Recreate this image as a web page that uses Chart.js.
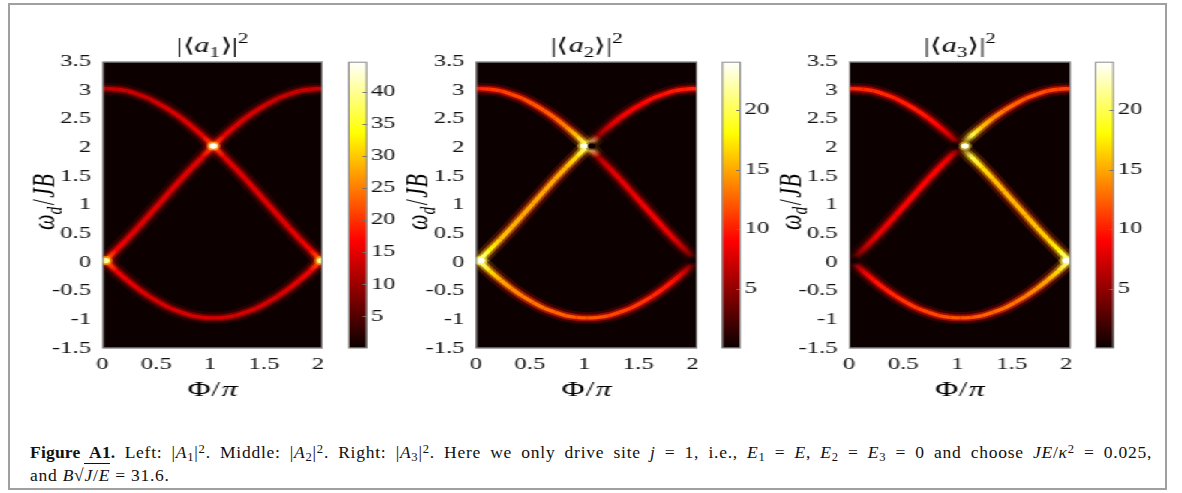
<!DOCTYPE html>
<html><head><meta charset="utf-8">
<script src="https://cdn.jsdelivr.net/npm/chart.js"></script>
<style>
html,body{margin:0;padding:0;background:#fff;width:1182px;height:493px;overflow:hidden;}
#frame{position:absolute;left:8px;top:3px;width:1159px;height:487px;box-sizing:border-box;border:2px solid #a0a0a0;}
#fig{position:absolute;left:0;top:0;width:800px;height:400px;transform:scaleX(1.5);transform-origin:0 0;}
#fig canvas{position:absolute;top:0;}
#cap{position:absolute;left:30px;top:442px;width:1122px;font-family:"Liberation Serif","Times New Roman",serif;font-size:17.5px;line-height:21px;color:#111;letter-spacing:0.75px;}
#cap b{letter-spacing:0.2px;}
#cap .l1{text-align:justify;text-align-last:justify;white-space:nowrap;}
#cap sub{vertical-align:baseline;position:relative;top:0.25em;font-size:0.72em;}
#cap sup{vertical-align:baseline;position:relative;top:-0.42em;font-size:0.72em;}
.ov{border-top:1px solid #111;padding-top:1px;}
</style>
</head><body>
<div id="frame"></div>
<div id="fig"></div>
<div id="cap">
<div class="l1"><b>Figure&nbsp;A1.</b> Left: |<i>A</i><sub>1</sub>|<sup>2</sup>. Middle: |<i>A</i><sub>2</sub>|<sup>2</sup>. Right: |<i>A</i><sub>3</sub>|<sup>2</sup>. Here we only drive site <i>j</i> = 1, i.e., <i>E</i><sub>1</sub> = <i>E</i>, <i>E</i><sub>2</sub> = <i>E</i><sub>3</sub> = 0 and choose <i>JE</i>/<i>κ</i><sup>2</sup> = 0.025,</div>
<div>and <i>B</i>√<span class="ov"><i>J</i>/<i>E</i></span> = 31.6.</div>
</div>
<script>
// ---------------- data ----------------
const phi    = [0,0.03,0.13,0.23,0.33,0.43,0.53,0.63,0.73,0.83,0.93,1.03,1.13,1.23,1.33,1.43,1.53,1.63,1.73,1.83,1.93,2.03];
const omegaA = [3.03,3.03,3.02,2.99,2.93,2.86,2.76,2.65,2.52,2.37,2.21,2.03,1.84,1.65,1.45,1.24,1.03,0.82,0.61,0.41,0.22,0.03];
const omegaB = [-0.02,0.03,0.22,0.41,0.61,0.82,1.03,1.24,1.45,1.65,1.84,2.03,2.21,2.37,2.52,2.65,2.76,2.86,2.93,2.99,3.02,3.03];
const omegaC = [0.08,0.03,-0.15,-0.31,-0.46,-0.59,-0.70,-0.80,-0.87,-0.93,-0.96,-0.97,-0.96,-0.93,-0.87,-0.80,-0.70,-0.59,-0.46,-0.31,-0.15,0.03];

// intensity along each branch, |<a1>|^2
const intA_left  = [13,13,13,13,13,13,13.5,14,14,14.5,15,22,15,14.5,14.5,14.5,14.5,14.5,14.5,15,16,24];
const intB_left  = [24,24,16,15,14.5,14.5,14.5,14.5,14.5,14.5,15,22,15,14.5,14,14,13.5,13,13,13,13,13];
const intC_left  = [24,24,16,15,14.5,14,14,14,14,14,14,14,14,14,14,14,14,14,14.5,15,16,24];
// |<a2>|^2
const intA_mid   = [10.5,10.5,11,11,11.5,11.5,12,12,12.5,13.5,16,22,6,7.5,8,8,8.5,8.5,8.5,8,6,1];
const intB_mid   = [23,23,18,16,15.5,15,15,15,15,15.5,17,22,5,7.5,8.5,9,9,9.5,9.5,10,10,10.5];
const intC_mid   = [23,23,17,15,14,13.5,13,13,12.5,12.5,12,12,12,11.5,11.5,11,11,10.5,10,9.5,7,1];
// |<a3>|^2
const intA_right = [10.5,10.5,10.5,10.5,10.5,10,10,10,9.5,9,7,2,20,17,16,15.5,15.5,15.5,16,16.5,18,23];
const intB_right = [1,1,6,8,8.5,8.5,9,9,9,9,8,2,20,16,14,13,12.5,12,12,11.5,11.5,11.5];
const intC_right = [2,2,8,9.5,10,10.5,11,11,11.5,11.5,12,12,12,12.5,12.5,13,13,13.5,14,15,17,23];

// bright / dark spots
const spotX_left  = [1.03,0.03,2.03], spotY_left  = [2.03,0.03,0.03], spotV_left  = [44.5,40,40];
const spotX_mid   = [1.00,1.07,0.05,2.00], spotY_mid   = [2.03,2.03,0.03,0.03], spotV_mid   = [23.5,0.3,24,0.3];
const spotX_right = [0.98,1.07,0.05,2.00], spotY_right = [2.03,2.03,0.03,0.03], spotV_right = [0.3,23.5,0.3,24];

// axes
const xTicks = [0,0.5,1,1.5,2];
const xTickLabels = ['0','0.5','1','1.5','2'];
const yTicks = [-1.5,-1,-0.5,0,0.5,1,1.5,2,2.5,3,3.5];
const yTickLabels = ['-1.5','-1','-0.5','0','0.5','1','1.5','2','2.5','3','3.5'];
const xRange = [0,2.045];
const yRange = [-1.5,3.5];
const cbRange_left = [0,44.7], cbTicks_left = [5,10,15,20,25,30,35,40];
const cbRange_mid  = [0,24.05], cbTicks_mid  = [5,10,15,20];
const cbRange_right= [0,24.05], cbTicks_right= [5,10,15,20];
const titleSubs = ['1','2','3'];

// ---------------- drawing ----------------
const FONT = '"Liberation Serif","Times New Roman",serif';
const clamp = v => v < 0 ? 0 : v > 1 ? 1 : v;
function hotRGB(v){ v = clamp(v); return [Math.round(255*clamp(0.04+0.96*v/0.375)), Math.round(255*clamp((v-0.375)/0.375)), Math.round(255*clamp((v-0.75)/0.25))]; }
function hotStr(v,a){ const c = hotRGB(v); return (a===undefined || a>=1) ? `rgb(${c})` : `rgba(${c},${a})`; }

function segColor(intensity, vmax, k, alpha){
  return sc => {
    const g = sc.chart.ctx.createLinearGradient(sc.p0.x, sc.p0.y, sc.p1.x, sc.p1.y);
    g.addColorStop(0, hotStr(intensity[sc.p0DataIndex]/vmax*k, alpha));
    g.addColorStop(1, hotStr(intensity[sc.p1DataIndex]/vmax*k, alpha));
    return g;
  };
}

function drawRuns(c, runs, size, x, y){
  let total = 0; const ms = [];
  for (const r of runs){
    const fs = (r.sub || r.sup) ? size*0.7 : size;
    c.font = (r.i ? 'italic ' : '') + fs + 'px ' + FONT;
    const w = c.measureText(r.t).width; ms.push({fs, w}); total += w + (r.gap||0);
  }
  let cx = x - total/2;
  c.textBaseline = 'alphabetic'; c.textAlign = 'left'; c.fillStyle = '#000';
  runs.forEach((r,k) => {
    c.font = (r.i ? 'italic ' : '') + ms[k].fs + 'px ' + FONT;
    const dy = r.sub ? size*0.22 : r.sup ? -size*0.45 : 0;
    c.fillText(r.t, cx, y + dy); cx += ms[k].w + (r.gap||0);
  });
}

const panels = [
  {sub:titleSubs[0], curves:[[omegaA,intA_left],[omegaB,intB_left],[omegaC,intC_left]], sx:spotX_left, sy:spotY_left, sv:spotV_left, cbRange:cbRange_left, cbTicks:cbTicks_left,
   geo:{plotL:68.2, plotR:218.9, cbL:232, cbR:244.7}},
  {sub:titleSubs[1], curves:[[omegaA,intA_mid],[omegaB,intB_mid],[omegaC,intC_mid]], sx:spotX_mid, sy:spotY_mid, sv:spotV_mid, cbRange:cbRange_mid, cbTicks:cbTicks_mid,
   geo:{plotL:317.3, plotR:468.5, cbL:481.3, cbR:494}},
  {sub:titleSubs[2], curves:[[omegaA,intA_right],[omegaB,intB_right],[omegaC,intC_right]], sx:spotX_right, sy:spotY_right, sv:spotV_right, cbRange:cbRange_right, cbTicks:cbTicks_right,
   geo:{plotL:566, plotR:717.5, cbL:730, cbR:742.7}}
];

const H = 400, TOP = 61.7, BOTTOM = 348.3;
const fig = document.getElementById('fig');
function mkCanvas(left, width){
  const cv = document.createElement('canvas');
  cv.width = width; cv.height = H;
  cv.style.left = left + 'px'; cv.style.width = width + 'px'; cv.style.height = H + 'px';
  fig.appendChild(cv); return cv;
}
const tickFont = {family: FONT, size: 16.5};

const layers = [{w:12, a:0.22, k:0.7, order:5}, {w:7, a:0.5, k:0.85, order:4}, {w:3.4, a:1, k:1, order:3}];

panels.forEach(p => {
  const g = p.geo, vmax = p.cbRange[1];
  // ---- main heat panel ----
  const cl = Math.floor(g.plotL - 68);
  const cw = Math.ceil(g.plotR - cl + 3);
  const datasets = [];
  p.curves.forEach(([om, inten]) => {
    layers.forEach(L => {
      datasets.push({
        data: phi.map((x,i) => ({x, y: om[i]})),
        borderWidth: L.w, borderColor: hotStr(inten[0]/vmax*L.k, L.a),
        pointRadius: 0, cubicInterpolationMode: 'monotone', clip: 0, order: L.order,
        segment: {borderColor: segColor(inten, vmax, L.k, L.a), borderDashOffset: sc => sc.p0DataIndex}
      });
    });
  });
  datasets.push({data: p.sx.map((x,i)=>({x, y:p.sy[i]})), showLine:false, pointRadius:4.5, pointBorderWidth:0,
    pointBackgroundColor: p.sv.map(v => hotStr(v/vmax*0.8, 0.45)), clip:0, order:2});
  datasets.push({data: p.sx.map((x,i)=>({x, y:p.sy[i]})), showLine:false, pointRadius:2.7, pointBorderWidth:0,
    pointBackgroundColor: p.sv.map(v => hotStr(v/vmax)), clip:0, order:1});

  const runsTitle = [{t:'|⟨'},{t:'a',i:1},{t:p.sub,sub:1,i:0},{t:'⟩|'},{t:'2',sup:1}];
  const runsY = [{t:'ω',i:1},{t:'d',i:1,sub:1,gap:1.5},{t:'/',gap:1.5},{t:'J',i:1,gap:0.5},{t:'B',i:1}];
  const runsX = [{t:'Φ',gap:0.5},{t:'/',gap:1},{t:'π',i:1}];

  new Chart(mkCanvas(cl, cw), {
    type: 'line',
    data: {datasets},
    options: {
      responsive:false, animation:false, events:[],
      layout:{padding:{left: g.plotL - cl - 60, right: cw - (g.plotR - cl), top: TOP, bottom: H - BOTTOM - 30}},
      plugins:{legend:{display:false}, tooltip:{enabled:false}, title:{display:false}},
      scales:{
        x:{type:'linear', min:xRange[0], max:xRange[1],
           afterBuildTicks: s => { s.ticks = xTicks.map(v => ({value:v})); },
           afterFit: s => { s.height = 30; },
           ticks:{font:tickFont, color:'#111', padding:6, maxRotation:0, autoSkip:false, callback: v => xTickLabels[xTicks.indexOf(v)]},
           grid:{display:false, drawTicks:false}, border:{display:false}},
        y:{type:'linear', min:yRange[0], max:yRange[1],
           afterBuildTicks: s => { s.ticks = yTicks.map(v => ({value:v})); },
           afterFit: s => { s.width = 60; },
           ticks:{font:tickFont, color:'#111', padding:7.5, autoSkip:false, callback: v => yTickLabels[yTicks.indexOf(v)]},
           grid:{display:false, drawTicks:false}, border:{display:false}}
      }
    },
    plugins:[{
      id:'frameAndLabels',
      beforeDatasetsDraw(chart){ const {ctx, chartArea:a} = chart; ctx.save(); ctx.fillStyle = 'rgb(13,0,0)'; ctx.fillRect(a.left, a.top, a.right-a.left, a.bottom-a.top); ctx.restore(); },
      afterDraw(chart){
        const {ctx, chartArea:a} = chart;
        ctx.save();
        ctx.strokeStyle = '#8c8c8c'; ctx.lineWidth = 1;
        ctx.strokeRect(a.left+0.5, a.top+0.5, a.right-a.left-1, a.bottom-a.top-1);
        const cx = (a.left + a.right)/2;
        drawRuns(ctx, runsTitle, 20, cx, a.top - 9.5);
        drawRuns(ctx, runsX, 21, cx, a.bottom + 47.5);
        ctx.translate(a.left - 32.5, (a.top + a.bottom)/2 - 3);
        ctx.rotate(-Math.PI/2);
        drawRuns(ctx, runsY, 22, 0, 0);
        ctx.restore();
      }
    }]
  });

  // ---- colour bar ----
  const bl = Math.floor(g.cbL - 4);
  const bw = Math.ceil(g.cbR - bl + 34);
  new Chart(mkCanvas(bl, bw), {
    type:'bar',
    data:{labels:['c'], datasets:[{
      data:[[p.cbRange[0], p.cbRange[1]]], borderWidth:0, borderSkipped:false, barPercentage:1, categoryPercentage:1,
      backgroundColor: c => {
        const a = c.chart.chartArea; if (!a) return '#000';
        const gr = c.chart.ctx.createLinearGradient(0, a.bottom, 0, a.top);
        [0, 0.375, 0.75, 1].forEach(f => gr.addColorStop(f, hotStr(f)));
        return gr;
      }
    }]},
    options:{
      responsive:false, animation:false, events:[],
      layout:{padding:{left: g.cbL - bl, right: bw - (g.cbR - bl) - 30, top: TOP, bottom: H - BOTTOM}},
      plugins:{legend:{display:false}, tooltip:{enabled:false}},
      scales:{
        x:{display:false},
        y:{position:'right', min:p.cbRange[0], max:p.cbRange[1],
           afterBuildTicks: s => { s.ticks = p.cbTicks.map(v => ({value:v})); },
           afterFit: s => { s.width = 30; },
           ticks:{font:tickFont, color:'#111', padding:2.5, autoSkip:false, callback: v => String(v)},
           grid:{display:false, drawTicks:false}, border:{display:false}}
      }
    },
    plugins:[{
      id:'cbFrame',
      afterDraw(chart){
        const {ctx, chartArea:a} = chart; const ys = chart.scales.y;
        ctx.save();
        ctx.strokeStyle = '#6e6e6e'; ctx.lineWidth = 1;
        p.cbTicks.forEach(v => { const y = Math.round(ys.getPixelForValue(v)) + 0.5; ctx.beginPath(); ctx.moveTo(a.right - 3, y); ctx.lineTo(a.right, y); ctx.stroke(); });
        ctx.strokeStyle = '#8c8c8c';
        ctx.strokeRect(a.left+0.5, a.top+0.5, a.right-a.left-1, a.bottom-a.top-1);
        ctx.restore();
      }
    }]
  });
});
</script>
</body></html>
